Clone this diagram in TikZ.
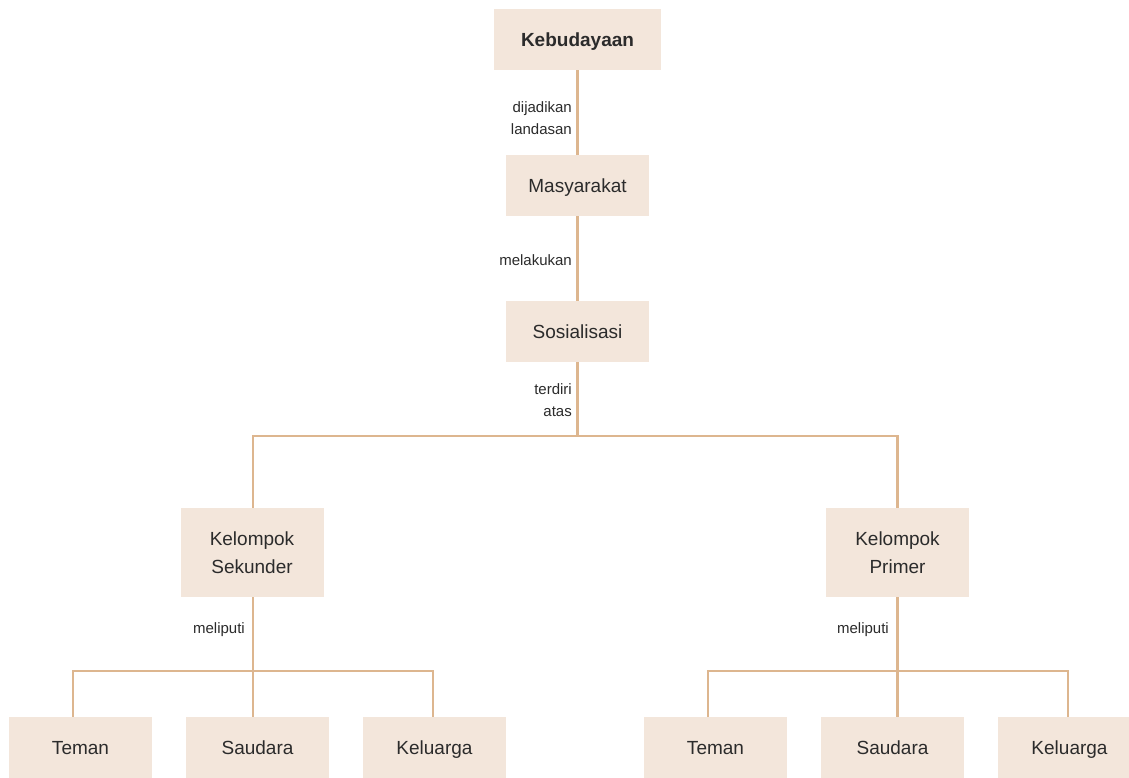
\documentclass[tikz,border=0pt]{standalone}
\usepackage{fontspec}
\setmainfont{Liberation Sans}
\definecolor{boxfill}{HTML}{F3E6DB}
\definecolor{linec}{HTML}{DDB68F}
\definecolor{txt}{HTML}{2B2B2B}
\begin{document}
\begin{tikzpicture}[x=1pt,y=-1pt,
 base/.style={fill=boxfill, draw=none, minimum width=143pt, minimum height=61pt, inner sep=0pt, text=txt, font=\fontsize{19}{28}\selectfont, align=center},
 box/.style={base, text height=16pt, text depth=2pt},
 tall/.style={base, minimum height=89pt},
 lbl/.style={text=txt, font=\fontsize{15}{22}\selectfont, align=right, anchor=east, inner sep=0pt},
 conn/.style={draw=linec, line width=2.6pt}]
\useasboundingbox (0,0) rectangle (1129,777);
\fill[white] (0,0) rectangle (1129,777);
% nodes
\node[box, minimum width=167pt, font=\bfseries\fontsize{19}{28}\selectfont] (keb) at (577.5,39.5) {Kebudayaan};
\node[box] (mas) at (577.5,185.5) {Masyarakat};
\node[box] (sos) at (577.5,331.5) {Sosialisasi};
\node[tall] (ks) at (252,552.5) {Kelompok\\Sekunder};
\node[tall] (kp) at (897.5,552.5) {Kelompok\\Primer};
\node[box] (t1) at (80.5,747.5) {Teman};
\node[box] (s1) at (257.5,747.5) {Saudara};
\node[box] (k1) at (434.5,747.5) {Keluarga};
\node[box] (t2) at (715.5,747.5) {Teman};
\node[box] (s2) at (892.5,747.5) {Saudara};
\node[box] (k2) at (1069.5,747.5) {Keluarga};
% junctions
\coordinate (j1) at (577.5,436);
\coordinate (j2) at (253,671);
\coordinate (j3) at (897.5,671);
% connectors
\draw[conn] (keb.south) -- (mas.north);
\draw[conn] (mas.south) -- (sos.north);
\draw[conn] (sos.south) -- (j1);
\draw[conn] ([xshift=1pt]ks.north) |- (j1) -| (kp.north);
\draw[conn] ([xshift=1pt]ks.south) -- ([xshift=-4.5pt]s1.north);
\draw[conn] ([xshift=-7.5pt]t1.north) |- (j2) -| ([xshift=-1.5pt]k1.north);
\draw[conn] (kp.south) -- ([xshift=5pt]s2.north);
\draw[conn] ([xshift=-7.5pt]t2.north) |- (j3) -| ([xshift=-1.5pt]k2.north);
% labels
\node[lbl] (l1) at (572,118) {dijadikan\\landasan};
\node[lbl] (l2) at (572,260) {melakukan};
\node[lbl] (l3) at (572,400) {terdiri\\atas};
\node[lbl] (l4) at (245,630) {meliputi};
\node[lbl] (l5) at (889,630) {meliputi};
\end{tikzpicture}
\end{document}
